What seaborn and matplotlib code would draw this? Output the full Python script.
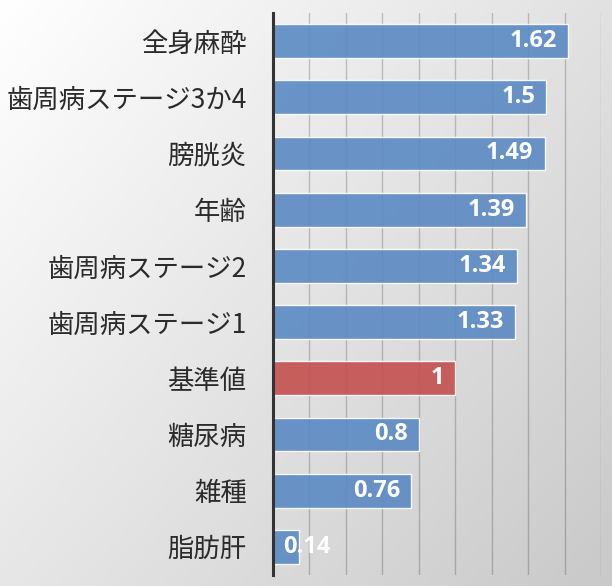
import numpy as np
import pandas as pd
import matplotlib
matplotlib.use("Agg")
import matplotlib.pyplot as plt
import seaborn as sns
from matplotlib.colors import LinearSegmentedColormap

categories = ["全身麻酔", "歯周病ステージ3か4", "膀胱炎", "年齢", "歯周病ステージ2",
              "歯周病ステージ1", "基準値", "糖尿病", "雑種", "脂肪肝"]
values = [1.62, 1.5, 1.49, 1.39, 1.34, 1.33, 1.0, 0.8, 0.76, 0.14]
value_labels = ["1.62", "1.5", "1.49", "1.39", "1.34", "1.33", "1", "0.8", "0.76", "0.14"]

blue = "#5b8ac3"
red = "#c3504e"
palette = {c: (red if c == "基準値" else blue) for c in categories}

df = pd.DataFrame({"cat": categories, "val": values})

sns.set_style("white")
plt.rcParams["font.family"] = ["Noto Sans CJK JP", "DejaVu Sans"]

fig = plt.figure(figsize=(6.12, 5.86), dpi=100)

# gradient background
bg = fig.add_axes([0, 0, 1, 1], zorder=-10)
yy, xx = np.mgrid[0:1:200j, 0:1:200j]
grad = (xx * 0.55 + yy * 0.45)
cmap = LinearSegmentedColormap.from_list("g", ["#ffffff", "#c9c9c9"])
bg.imshow(grad, cmap=cmap, aspect="auto", extent=[0, 1, 0, 1], origin="upper")
bg.axis("off")

ax = fig.add_axes([273 / 612, 11 / 586, 328 / 612, 562 / 586])
ax.patch.set_alpha(0)
sns.barplot(data=df, x="val", y="cat", hue="cat", palette=palette, legend=False,
            orient="h", width=0.6, ax=ax, alpha=0.9, saturation=1, zorder=2)

ax.set_xlim(0, 1.8)
ax.set_xticks(np.arange(0, 1.81, 0.2))
ax.set_xticklabels([])
ax.tick_params(axis="x", length=0)
ax.tick_params(axis="y", length=0, labelsize=19, labelcolor="#2b2b2b", pad=19)
ax.grid(axis="x", color="#000000", alpha=0.2, linewidth=1)
ax.set_axisbelow(True)
ax.set_xlabel("")
ax.set_ylabel("")
for s in ["top", "right", "bottom"]:
    ax.spines[s].set_visible(False)
ax.spines["left"].set_color("#333333")
ax.spines["left"].set_linewidth(2.2)

for i, (v, lab) in enumerate(zip(values, value_labels)):
    if v < 0.3:
        ax.annotate(lab, (0, i), xytext=(7, 0), textcoords="offset points",
                    ha="left", va="center", color="white", fontsize=17,
                    fontweight="bold", family=["Open Sans", "DejaVu Sans"], zorder=5)
    else:
        ax.annotate(lab, (v, i), xytext=(-8, 0), textcoords="offset points",
                    ha="right", va="center", color="white", fontsize=17,
                    fontweight="bold", family=["Open Sans", "DejaVu Sans"], zorder=5)

fig.savefig("out.png", dpi=100)
